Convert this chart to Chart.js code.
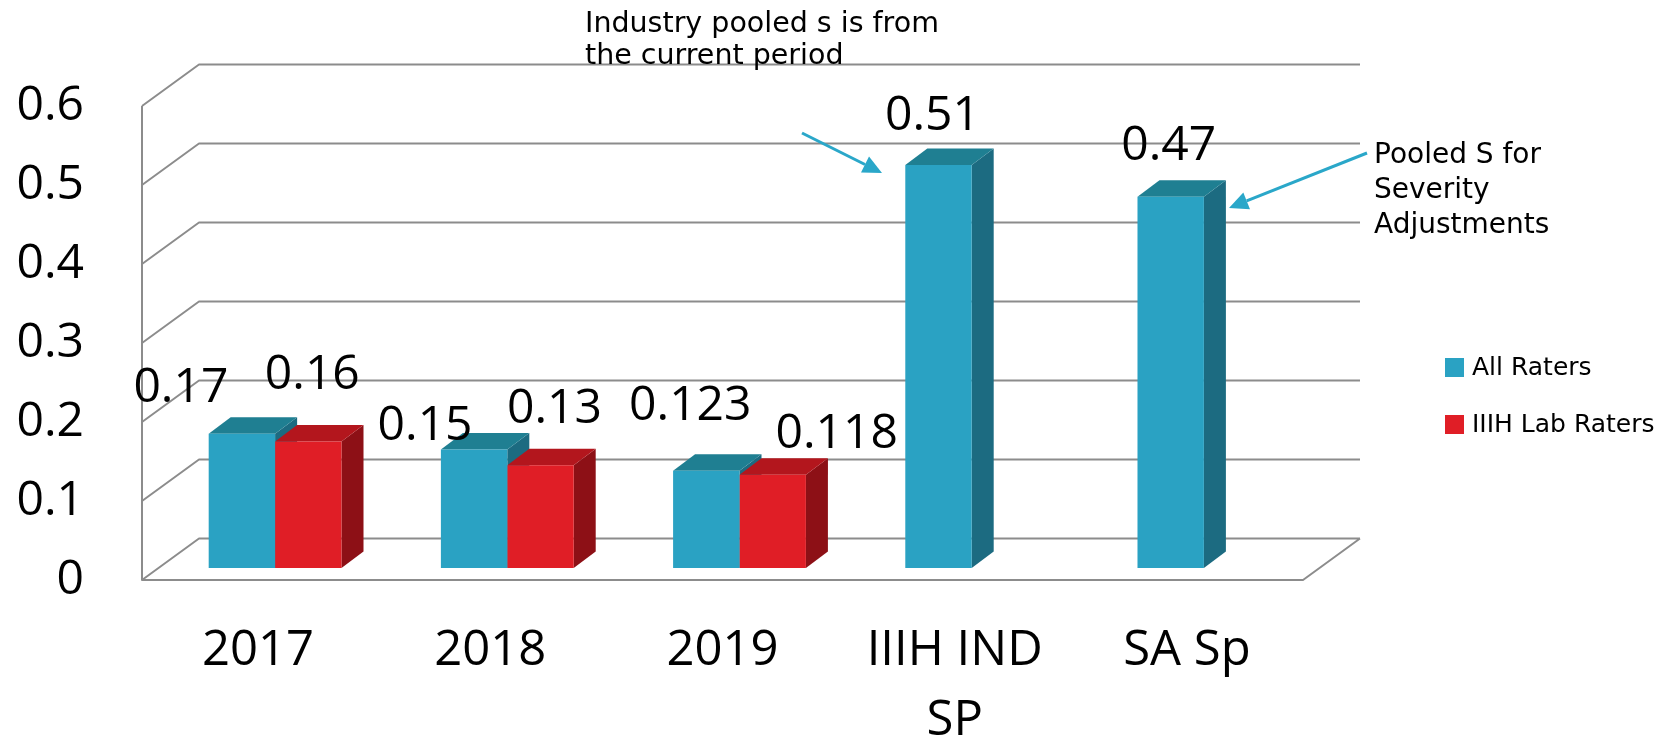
<!DOCTYPE html>
<html>
<head>
<meta charset="utf-8">
<title>Pooled s</title>
<script src="https://cdn.jsdelivr.net/npm/chart.js@4.4.1/dist/chart.umd.min.js"></script>
<style>
  body { margin: 0; background: #fff; }
  #contenedor { width: 1673px; height: 742px; position: relative; }
</style>
</head>
<body>
<div id="contenedor"><canvas id="grafica"></canvas></div>
<script>
var categorias = ['2017', '2018', '2019', ['IIIH IND', 'SP'], 'SA Sp'];

var allRaters = [0.17, 0.15, 0.123, 0.51, 0.47];
var labRaters = [0.16, 0.13, 0.118, null, null];

var yMin = 0;
var yMax = 0.6;
var yPaso = 0.1;

var nombresSeries = ['All Raters', 'IIIH Lab Raters'];
var notaIndustria = ['Industry pooled s is from', 'the current period'];
var notaPooled = ['Pooled S for', 'Severity', 'Adjustments'];

// donde cae cada etiqueta de valor respecto al borde superior de su barra
var desplAll = [[-61, -45], [-49, -23], [-16, -65], [-6, -49], [-2, -50]];
var desplLab = [[4, -66], [14, -56], [64, -40], null, null];

var azul = { frente: '#2aa2c3', tapa: '#1f7f92', lado: '#1c6b81' };
var rojo = { frente: '#e01e26', tapa: '#b3161d', lado: '#8d1016' };
var colorGrid = '#8c8c8c';
var colorFlecha = '#2aa7c9';

// perspectiva: pared frontal, pared del fondo y profundidad de cada barra
var frente = { dx: -17, dy: 12 };
var fondo = { dx: 40, dy: -29.5 };
var prof = { dx: 22, dy: -16.5 };

function poligono(ctx, pts) {
    ctx.beginPath();
    ctx.moveTo(pts[0][0], pts[0][1]);
    for (var i = 1; i < pts.length; i++) ctx.lineTo(pts[i][0], pts[i][1]);
    ctx.closePath();
    ctx.fill();
}

function flecha(ctx, x1, y1, x2, y2) {
    var ang = Math.atan2(y2 - y1, x2 - x1);
    var largo = 19, ancho = 9;
    var bx = x2 - largo * Math.cos(ang), by = y2 - largo * Math.sin(ang);
    ctx.beginPath();
    ctx.moveTo(x1, y1);
    ctx.lineTo(bx, by);
    ctx.stroke();
    ctx.beginPath();
    ctx.moveTo(x2, y2);
    ctx.lineTo(bx + ancho * Math.sin(ang), by - ancho * Math.cos(ang));
    ctx.lineTo(bx - ancho * Math.sin(ang), by + ancho * Math.cos(ang));
    ctx.closePath();
    ctx.fill();
}

var cubos = {
    id: 'cubos',
    beforeDatasetsDraw: function (chart) {
        var ctx = chart.ctx, area = chart.chartArea, y = chart.scales.y;
        var cero = y.getPixelForValue(0);
        ctx.save();
        ctx.strokeStyle = colorGrid;
        ctx.lineWidth = 2;
        ctx.lineJoin = 'round';
        ctx.beginPath();
        // arista izquierda y piso
        ctx.moveTo(area.left + frente.dx, y.getPixelForValue(yMax) + frente.dy);
        ctx.lineTo(area.left + frente.dx, cero + frente.dy);
        ctx.lineTo(area.right + frente.dx, cero + frente.dy);
        ctx.lineTo(area.right + fondo.dx, cero + fondo.dy);
        // lineas de la pared lateral y del fondo
        y.ticks.forEach(function (t) {
            var p = y.getPixelForValue(t.value);
            ctx.moveTo(area.left + frente.dx, p + frente.dy);
            ctx.lineTo(area.left + fondo.dx, p + fondo.dy);
            ctx.lineTo(area.right + fondo.dx, p + fondo.dy);
        });
        ctx.stroke();

        // lados y tapas, de izquierda a derecha
        for (var i = 0; i < chart.data.labels.length; i++) {
            chart.data.datasets.forEach(function (ds, d) {
                var bar = chart.getDatasetMeta(d).data[i];
                if (ds.data[i] == null || !bar) return;
                var l = bar.x - bar.width / 2, r = bar.x + bar.width / 2;
                var t = bar.y, b = bar.base;
                ctx.fillStyle = ds.colorLado;
                poligono(ctx, [[r, t], [r + prof.dx, t + prof.dy], [r + prof.dx, b + prof.dy], [r, b]]);
                ctx.fillStyle = ds.colorTapa;
                poligono(ctx, [[l, t], [r, t], [r + prof.dx, t + prof.dy], [l + prof.dx, t + prof.dy]]);
            });
        }
        ctx.restore();
    },
    afterDatasetsDraw: function (chart) {
        var ctx = chart.ctx;
        ctx.save();
        ctx.fillStyle = '#000';
        ctx.font = '48px "Open Sans"';
        ctx.textAlign = 'center';
        ctx.textBaseline = 'middle';
        chart.data.datasets.forEach(function (ds, d) {
            var meta = chart.getDatasetMeta(d);
            ds.data.forEach(function (v, i) {
                if (v == null || !ds.despl[i]) return;
                var bar = meta.data[i];
                ctx.fillText(String(v), bar.x + ds.despl[i][0], bar.y + ds.despl[i][1]);
            });
        });
        ctx.restore();
    },
    afterDraw: function (chart) {
        var ctx = chart.ctx;
        ctx.save();
        // notas con flecha
        ctx.fillStyle = '#000';
        ctx.font = '28.5px "DejaVu Sans"';
        ctx.textAlign = 'left';
        ctx.textBaseline = 'alphabetic';
        notaIndustria.forEach(function (txt, i) { ctx.fillText(txt, 585, 32 + i * 32); });
        ctx.font = '28px "DejaVu Sans"';
        notaPooled.forEach(function (txt, i) { ctx.fillText(txt, 1374, 163 + i * 35); });

        ctx.strokeStyle = colorFlecha;
        ctx.fillStyle = colorFlecha;
        ctx.lineWidth = 3;
        flecha(ctx, 802, 133, 882, 173);
        flecha(ctx, 1367, 153, 1229, 208);

        // leyenda
        ctx.font = '25px "DejaVu Sans"';
        ctx.textBaseline = 'middle';
        chart.data.datasets.forEach(function (ds, d) {
            var yy = 358 + d * 57;
            ctx.fillStyle = ds.backgroundColor;
            ctx.fillRect(1445, yy, 19, 19);
            ctx.fillStyle = '#000';
            ctx.fillText(ds.label, 1472, yy + 10);
        });
        ctx.restore();
    }
};

var datosGrafica = {
    labels: categorias,
    datasets: [{
        label: nombresSeries[0],
        data: allRaters,
        backgroundColor: azul.frente,
        colorTapa: azul.tapa,
        colorLado: azul.lado,
        despl: desplAll,
        borderWidth: 0,
        categoryPercentage: 0.572,
        barPercentage: 1.0
    }, {
        label: nombresSeries[1],
        data: labRaters,
        backgroundColor: rojo.frente,
        colorTapa: rojo.tapa,
        colorLado: rojo.lado,
        despl: desplLab,
        borderWidth: 0,
        categoryPercentage: 0.572,
        barPercentage: 1.0
    }]
};

var configuracion = {
    type: 'bar',
    data: datosGrafica,
    options: {
        responsive: true,
        maintainAspectRatio: false,
        animation: false,
        layout: { padding: { top: 94, right: 353, bottom: 0, left: 0 } },
        plugins: {
            legend: { display: false },
            tooltip: { enabled: false }
        },
        scales: {
            x: {
                grid: { display: false, drawTicks: false },
                border: { display: false },
                ticks: {
                    color: '#000',
                    font: { family: '"Open Sans"', size: 49, lineHeight: 1.41 },
                    padding: 49,
                    labelOffset: -17,
                    maxRotation: 0,
                    autoSkip: false
                },
                afterFit: function (s) { s.height = 174; }
            },
            y: {
                min: yMin,
                max: yMax,
                grid: { display: false, drawTicks: false },
                border: { display: false },
                ticks: {
                    stepSize: yPaso,
                    color: '#000',
                    font: { family: '"Open Sans"', size: 48 },
                    padding: 75,
                    labelOffset: 12,
                    callback: function (v) { return String(Math.round(v * 10) / 10); }
                },
                afterFit: function (s) {
                    s.width = 159;
                    // el padding horizontal de las etiquetas no debe empujar el area hacia abajo
                    s.paddingTop = 0;
                    s.paddingBottom = 0;
                }
            }
        }
    },
    plugins: [cubos]
};

var grafica = new Chart(document.getElementById('grafica'), configuracion);
</script>
</body>
</html>
